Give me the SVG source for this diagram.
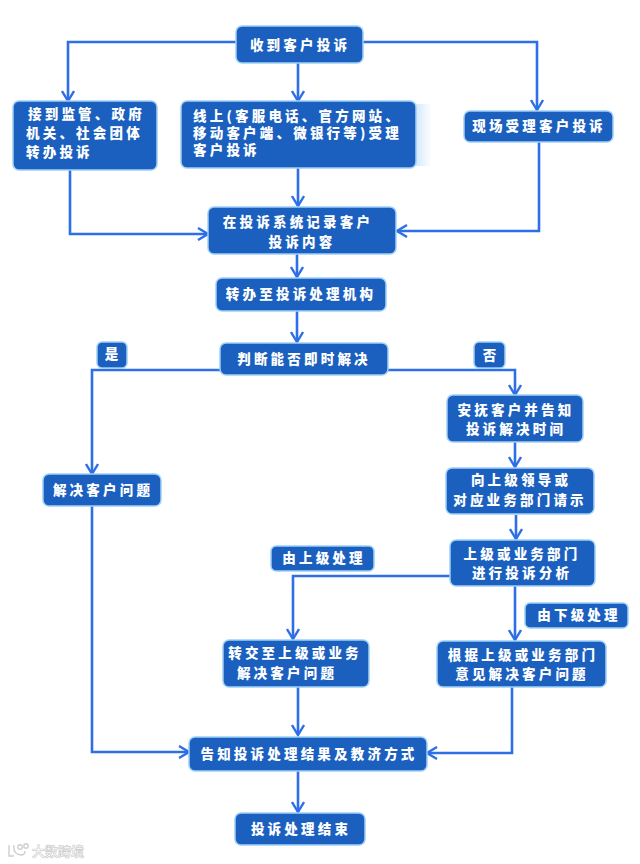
<svg xmlns="http://www.w3.org/2000/svg" width="640" height="864" viewBox="0 0 640 864">
<style>
.n{fill:#1b60bf;stroke:#9fd0f7;stroke-width:1.5}
.t{font-family:"Noto Sans CJK SC","Noto Sans",sans-serif;font-size:13.5px;font-weight:900;fill:#fff;letter-spacing:3.2px;text-anchor:middle}
.l{text-anchor:start}
.c{fill:none;stroke:#2f6fe6;stroke-width:2.6}
.h{fill:none;stroke:#2f6fe6;stroke-width:2.4}
.w{font-family:"Noto Sans CJK SC","Noto Sans",sans-serif;font-size:13px;font-weight:700;fill:#fff;stroke:#cfcfcf;stroke-width:.7}
.m{fill:none;stroke:#cfcfcf;stroke-width:1.4}
</style>
<defs>
<linearGradient id="g"><stop offset="0" stop-color="#cfe6fa"/><stop offset="1" stop-color="#fff"/></linearGradient>
<marker id="a" viewBox="0 0 14 14" refX="12" refY="7" markerWidth="14" markerHeight="14" markerUnits="userSpaceOnUse" orient="auto"><path class="h" d="M2 1 L12 7 L2 13"/></marker>
</defs>
<rect width="640" height="864" fill="#fff"/>
<rect x="414" y="104" width="18" height="62" fill="url(#g)"/>
<g id="connectors">
<path class="c" marker-end="url(#a)" d="M236 42H68V101"/>
<path class="c" marker-end="url(#a)" d="M298 63V101"/>
<path class="c" marker-end="url(#a)" d="M363 42H537V110"/>
<path class="c" marker-end="url(#a)" d="M70 170V234H208"/>
<path class="c" marker-end="url(#a)" d="M298 167V206"/>
<path class="c" marker-end="url(#a)" d="M539 142V231H397"/>
<path class="c" marker-end="url(#a)" d="M297 254V277"/>
<path class="c" marker-end="url(#a)" d="M297 311V342"/>
<path class="c" marker-end="url(#a)" d="M220 370H92V474"/>
<path class="c" marker-end="url(#a)" d="M388 370H515V395"/>
<path class="c" marker-end="url(#a)" d="M515 442V467"/>
<path class="c" marker-end="url(#a)" d="M516 515V539"/>
<path class="c" marker-end="url(#a)" d="M450 576H293V639"/>
<path class="c" marker-end="url(#a)" d="M515 586V640"/>
<path class="c" marker-end="url(#a)" d="M298 687V735"/>
<path class="c" marker-end="url(#a)" d="M92 506V752H189"/>
<path class="c" marker-end="url(#a)" d="M512 687V753H427"/>
<path class="c" marker-end="url(#a)" d="M298 771V812"/>
</g>
<g id="n1"><rect class="n" x="236" y="26" width="127" height="37" rx="6"/><text class="t" x="300" y="50">收到客户投诉</text></g>
<g id="n2"><rect class="n" x="13" y="101" width="144" height="69" rx="6"/><text class="t l"><tspan x="28" y="119">接到监管、政府</tspan><tspan x="26" y="138">机关、社会团体</tspan><tspan x="26" y="157">转办投诉</tspan></text></g>
<g id="n3"><rect class="n" x="181" y="101" width="235" height="67" rx="6"/><text class="t l"><tspan x="193" y="121">线上(客服电话、官方网站、</tspan><tspan x="193" y="138">移动客户端、微银行等)受理</tspan><tspan x="193" y="155">客户投诉</tspan></text></g>
<g id="n4"><rect class="n" x="464" y="111" width="149" height="31" rx="6"/><text class="t" x="539" y="131">现场受理客户投诉</text></g>
<g id="n5"><rect class="n" x="208" y="207" width="188" height="47" rx="6"/><text class="t" x="298" y="227">在投诉系统记录客户</text><text class="t" x="302" y="247">投诉内容</text></g>
<g id="n6"><rect class="n" x="216" y="278" width="170" height="33" rx="6"/><text class="t" x="301" y="299">转办至投诉处理机构</text></g>
<g id="n7"><rect class="n" x="220" y="343" width="168" height="32" rx="6"/><text class="t" x="304" y="364">判断能否即时解决</text></g>
<g id="n8"><rect class="n" x="97" y="342" width="30" height="26" rx="5"/><text class="t" x="113" y="359">是</text></g>
<g id="n9"><rect class="n" x="474" y="342" width="31" height="26" rx="5"/><text class="t" x="491" y="360">否</text></g>
<g id="n10"><rect class="n" x="447" y="395" width="136" height="47" rx="6"/><text class="t" x="516" y="415">安抚客户并告知</text><text class="t" x="516" y="434">投诉解决时间</text></g>
<g id="n11"><rect class="n" x="43" y="474" width="118" height="32" rx="6"/><text class="t" x="103" y="495">解决客户问题</text></g>
<g id="n12"><rect class="n" x="446" y="468" width="148" height="46" rx="6"/><text class="t" x="521" y="485">向上级领导或</text><text class="t" x="520" y="505">对应业务部门请示</text></g>
<g id="n13"><rect class="n" x="450" y="540" width="145" height="46" rx="6"/><text class="t" x="522" y="559">上级或业务部门</text><text class="t" x="522" y="578">进行投诉分析</text></g>
<g id="n14"><rect class="n" x="271" y="546" width="103" height="25" rx="5"/><text class="t" x="324" y="563">由上级处理</text></g>
<g id="n15"><rect class="n" x="525" y="603" width="103" height="25" rx="5"/><text class="t" x="579" y="620">由下级处理</text></g>
<g id="n16"><rect class="n" x="223" y="640" width="146" height="47" rx="6"/><text class="t" x="295" y="658">转交至上级或业务</text><text class="t" x="287" y="678">解决客户问题</text></g>
<g id="n17"><rect class="n" x="437" y="641" width="169" height="46" rx="6"/><text class="t" x="523" y="660">根据上级或业务部门</text><text class="t" x="522" y="679">意见解决客户问题</text></g>
<g id="n18"><rect class="n" x="189" y="737" width="238" height="34" rx="6"/><text class="t" x="309" y="759">告知投诉处理结果及教济方式</text></g>
<g id="n19"><rect class="n" x="235" y="813" width="130" height="32" rx="6"/><text class="t" x="301" y="834">投诉处理结束</text></g>
<path class="m" d="M9 845V856H14M14 845C13 852 17 855 21 855C24 855 25 853 25 851"/><circle class="m" cx="20" cy="847" r="2.2"/><circle class="m" cx="26" cy="846" r="2.2"/>
<text class="w" x="32" y="856">大数跨境</text>
</svg>
